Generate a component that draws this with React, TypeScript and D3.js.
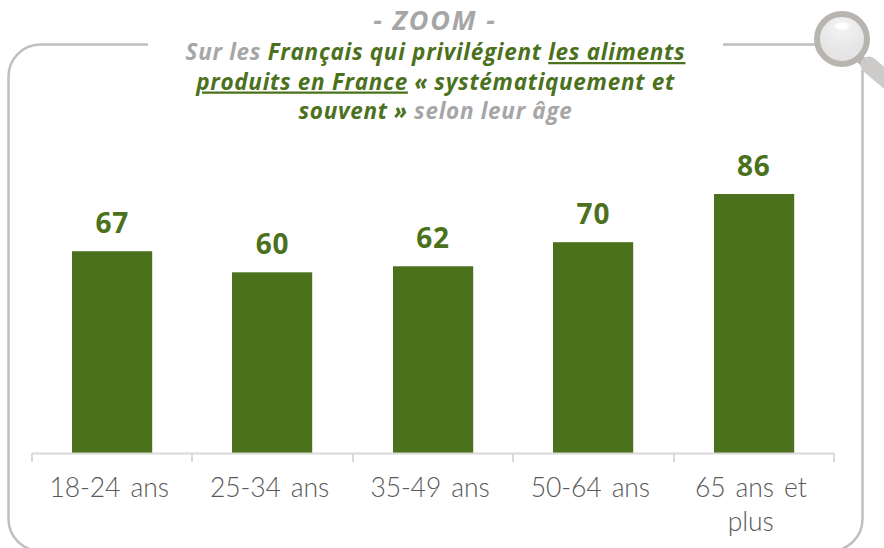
import React from "react";
import * as d3 from "d3";

const categories = ["18-24 ans", "25-34 ans", "35-49 ans", "50-64 ans", "65 ans et|plus"];
const values = [67, 60, 62, 70, 86];
const GREEN = "#4b711d";
const GREY = "#a6a6a6";
const FONT = "'Open Sans', Lato, sans-serif";
const LABEL_FONT = "Lato, sans-serif";

const x = d3.scaleBand<string>().domain(categories).range([32, 834]).paddingInner(0.5).paddingOuter(0.25);
const y = d3.scaleLinear().domain([0, 86]).range([453, 194]);

const titleLines: { t: string; c: string; u?: boolean }[][] = [
  [{ t: "Sur les ", c: GREY }, { t: "Français qui privilégient ", c: GREEN }, { t: "les aliments", c: GREEN, u: true }],
  [{ t: "produits en France", c: GREEN, u: true }, { t: " « systématiquement et", c: GREEN }],
  [{ t: "souvent »", c: GREEN }, { t: " selon leur âge", c: GREY }],
];

export default function App() {
  const ticks = [32, ...categories.map((c) => Math.round((x(c) as number) + x.bandwidth() * 1.5))];
  return (
    <svg width={884} height={548} style={{ position: "absolute", left: 0, top: 0 }}>
      <defs>
        <radialGradient id="lens" cx="50%" cy="25%" r="75%">
          <stop offset="0%" stopColor="#f6f5f5" />
          <stop offset="60%" stopColor="#e8e7e7" />
          <stop offset="100%" stopColor="#e4e3e3" />
        </radialGradient>
      </defs>
      <path
        d="M148 44.5 H40 A32 32 0 0 0 8.5 76.5 V519 A32 32 0 0 0 40 551 H831 A32 32 0 0 0 862.5 519 V70 M723 44.5 H820"
        fill="none" stroke="#bfbfbf" strokeWidth={2.5}
      />
      <g>
        <line x1={859} y1={58} x2={868} y2={66} stroke="#b8b5b1" strokeWidth={9} />
        <line x1={869} y1={65} x2={888} y2={81} stroke="#cdcaca" strokeWidth={17} strokeLinecap="round" />
        <circle cx={842} cy={39} r={25} fill="url(#lens)" stroke="#b8b5b1" strokeWidth={6} />
        <ellipse cx={842} cy={26} rx={7} ry={3.5} fill="#ffffff" />
      </g>
      <text x={435} y={29.5} textAnchor="middle" fontFamily={FONT} fontSize={27} fontStyle="italic" fontWeight={700} fill={GREY} letterSpacing={1.8}>- ZOOM -</text>
      {titleLines.map((line, i) => (
        <text key={i} x={435.5} y={60 + i * 29.5} textAnchor="middle" fontFamily={FONT} fontSize={22.5} fontStyle="italic" fontWeight={700} letterSpacing={0.7}>
          {line.map((s, j) => (
            <tspan key={j} fill={s.c} textDecoration={s.u ? "underline" : undefined} xmlSpace="preserve">{s.t}</tspan>
          ))}
        </text>
      ))}
      {categories.map((c, i) => (
        <g key={c}>
          <rect x={Math.round(x(c) as number)} y={y(values[i])} width={x.bandwidth()} height={453 - y(values[i])} fill={GREEN} />
          <text x={(x(c) as number) + x.bandwidth() / 2} y={y(values[i]) - 18} textAnchor="middle" fontFamily={FONT} fontSize={28} fontWeight={700} letterSpacing={0.8} fill={GREEN}>{values[i]}</text>
          {c.split("|").map((l, k) => (
            <text key={k} x={(x(c) as number) + x.bandwidth() / 2 - 3} y={497 + k * 34} textAnchor="middle" fontFamily={LABEL_FONT} fontWeight={300} fontSize={26.5} letterSpacing={-0.1} wordSpacing={3} fill="#595959">{l}</text>
          ))}
        </g>
      ))}
      <line x1={32} x2={834} y1={453.5} y2={453.5} stroke="#d9d9d9" strokeWidth={2} />
      {ticks.map((t, i) => (
        <line key={i} x1={t} x2={t} y1={453} y2={462} stroke="#d9d9d9" strokeWidth={2} />
      ))}
    </svg>
  );
}
